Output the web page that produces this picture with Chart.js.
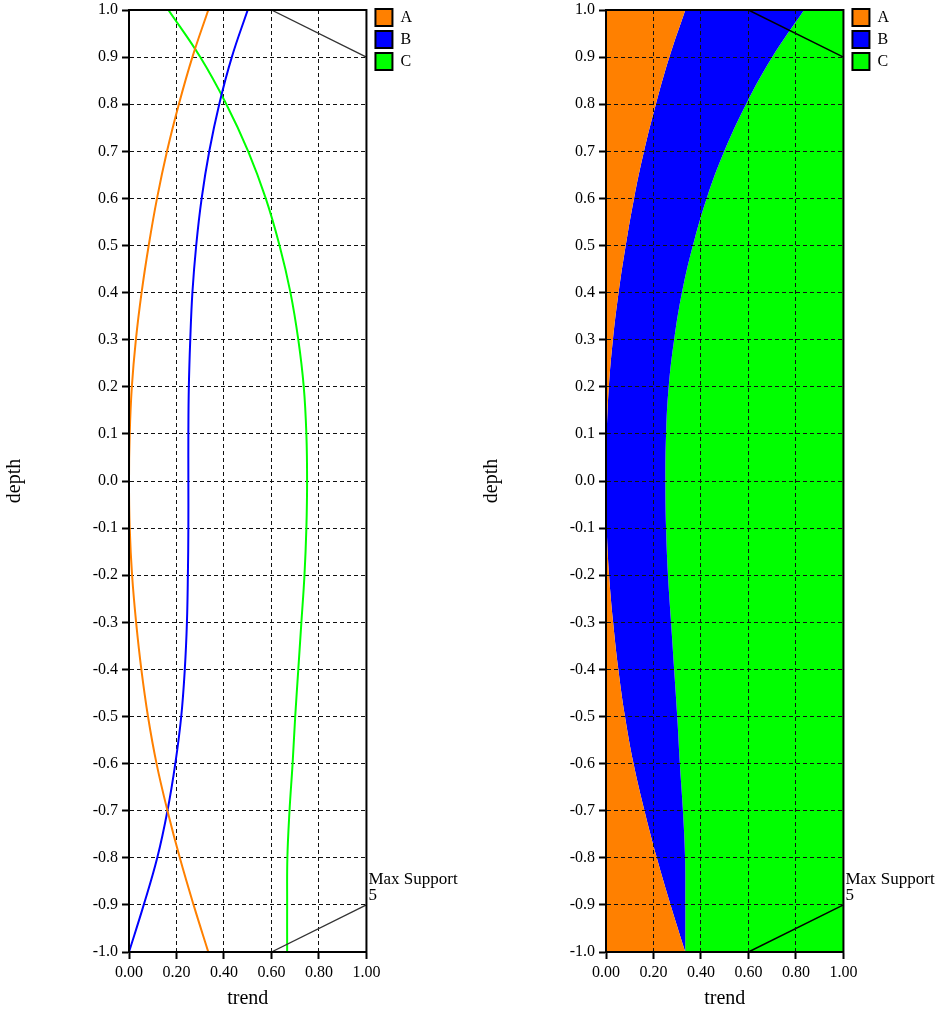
<!DOCTYPE html>
<html>
<head>
<meta charset="utf-8">
<script src="https://cdn.jsdelivr.net/npm/chart.js@4.4.1/dist/chart.umd.min.js"></script>
<style>
    html, body { margin: 0; padding: 0; background: #fff; }
    .panel { position: absolute; top: 0; height: 1014px; }
    #leftPanel { left: 0; width: 470px; }
    #rightPanel { left: 477px; width: 464px; }
</style>
</head>
<body>
<div id="leftPanel" class="panel"><canvas id="trendChart"></canvas></div>
<div id="rightPanel" class="panel"><canvas id="stackChart"></canvas></div>
<script>
// DATA (top of plot to bottom)
const depthLevels = [1.0, 0.9, 0.8, 0.7, 0.6, 0.5, 0.4, 0.3, 0.2, 0.1, 0.0,
    -0.1, -0.2, -0.3, -0.4, -0.5, -0.6, -0.7, -0.8, -0.9, -1.0];
const trendA = [0.334, 0.267, 0.210, 0.160, 0.118, 0.083, 0.053, 0.029, 0.012, 0.003, 0.000,
    0.003, 0.013, 0.030, 0.052, 0.080, 0.116, 0.162, 0.214, 0.272, 0.334];
const trendB = [0.500, 0.433, 0.380, 0.338, 0.306, 0.283, 0.267, 0.258, 0.252, 0.250, 0.250,
    0.250, 0.248, 0.244, 0.235, 0.220, 0.195, 0.162, 0.119, 0.062, 0.000];
const trendC = [0.166, 0.300, 0.410, 0.502, 0.576, 0.634, 0.680, 0.713, 0.736, 0.747, 0.750,
    0.747, 0.739, 0.726, 0.713, 0.700, 0.689, 0.676, 0.667, 0.666, 0.666];

const seriesNames = ["A", "B", "C"];
const seriesColors = ["#FF8000", "#0000FF", "#00FF00"];

// the two black "Max Support" guide lines
const supportTrend = [0.6, 1.0];
const supportTopDepth = [1.0, 0.9];
const supportBottomDepth = [-1.0, -0.9];
const supportText = ["Max Support", "5"];

const serif = '"Liberation Serif", "Times New Roman", serif';
Chart.defaults.font.family = serif;
Chart.defaults.color = "#000";

function toPoints(xs, ys) {
    return xs.map((x, i) => ({ x: x, y: ys[i] }));
}

/* -------------------------
   SHARED PIECES
--------------------------*/

function axisGrid(z) {
    return {
        color: "#111",
        lineWidth: 1,
        tickLength: 7,
        tickColor: "#000",
        tickWidth: 2,
        tickBorderDash: [],
        z: z
    };
}

function buildScales(gridOnTop) {
    const z = gridOnTop ? 1 : -1;
    return {
        x: {
            type: "linear",
            min: 0,
            max: 1,
            ticks: {
                stepSize: 0.2,
                padding: 4,
                font: { size: 16 },
                callback: v => v.toFixed(2)
            },
            grid: axisGrid(z),
            border: { display: true, color: "#000", width: 2, dash: [4, 3], z: z },
            title: {
                display: true,
                text: "trend",
                font: { size: 20 },
                padding: { top: 0, bottom: 3 }
            },
            afterFit: s => {
                s.height = 62;
                s.paddingLeft = 0;
                s.paddingRight = 0;
            }
        },
        y: {
            type: "linear",
            min: -1,
            max: 1,
            ticks: {
                stepSize: 0.1,
                padding: 4,
                font: { size: 16 },
                callback: v => (Math.abs(v) < 1e-9 ? 0 : v).toFixed(1)
            },
            grid: axisGrid(z),
            border: { display: true, color: "#000", width: 2, dash: [4, 3], z: z },
            title: {
                display: true,
                text: "depth",
                font: { size: 20 },
                padding: { top: 3, bottom: 0 }
            },
            afterFit: s => {
                s.width = 129;
                s.paddingTop = 10;
                s.paddingBottom = 0;
            }
        }
    };
}

function buildLegend() {
    return {
        position: "right",
        align: "start",
        onClick: () => {},
        labels: {
            boxWidth: 17,
            boxHeight: 17,
            padding: 5,
            color: "#000",
            font: { size: 16 },
            generateLabels: () => seriesNames.map((name, i) => ({
                text: name,
                fillStyle: seriesColors[i],
                strokeStyle: "#000",
                lineWidth: 2,
                hidden: false,
                datasetIndex: i
            }))
        }
    };
}

function supportLines(color, width) {
    return [
        {
            label: "supportTop",
            data: toPoints(supportTrend, supportTopDepth),
            borderColor: color,
            borderWidth: width,
            pointRadius: 0,
            fill: false,
            order: 0
        },
        {
            label: "supportBottom",
            data: toPoints(supportTrend, supportBottomDepth),
            borderColor: color,
            borderWidth: width,
            pointRadius: 0,
            fill: false,
            order: 0
        }
    ];
}

// frame round the plot + the "Max Support" note
const framePlugin = {
    id: "frame",
    afterLayout(chart) {
        // nudge the legend a little away from the plot
        chart.legend.left += 4;
        chart.legend.right += 4;
    },
    afterDraw(chart) {
        const { ctx, chartArea: a, scales } = chart;
        ctx.save();
        ctx.strokeStyle = "#000";
        ctx.lineWidth = 2;
        ctx.strokeRect(a.left, a.top, a.right - a.left, a.bottom - a.top);

        const yEnd = scales.y.getPixelForValue(supportBottomDepth[1]);
        ctx.fillStyle = "#000";
        ctx.font = "17px " + serif;
        ctx.textAlign = "left";
        ctx.textBaseline = "alphabetic";
        ctx.fillText(supportText[0], a.right + 2, yEnd - 21);
        ctx.fillText(supportText[1], a.right + 2, yEnd - 5);
        ctx.restore();
    }
};

/* -------------------------
   LEFT: TREND LINES
--------------------------*/

const lineSets = [trendA, trendB, trendC].map((vals, i) => ({
    label: seriesNames[i],
    data: toPoints(vals, depthLevels),
    borderColor: seriesColors[i],
    backgroundColor: seriesColors[i],
    borderWidth: 2,
    pointRadius: 0,
    fill: false,
    tension: 0.4,
    order: 1
}));

new Chart(document.getElementById("trendChart"), {
    type: "line",
    data: { datasets: lineSets.concat(supportLines("#333", 1.3)) },
    options: {
        indexAxis: "y",
        responsive: true,
        maintainAspectRatio: false,
        animation: false,
        events: [],
        layout: { padding: { top: 4, right: 52, bottom: 0, left: 0 } },
        scales: buildScales(false),
        plugins: {
            legend: buildLegend(),
            tooltip: { enabled: false }
        }
    },
    plugins: [framePlugin]
});

/* -------------------------
   RIGHT: STACKED AREAS
--------------------------*/

const stackA = trendA.slice();
const stackAB = trendA.map((a, i) => a + trendB[i]);
const stackABC = stackAB.map((v, i) => v + trendC[i]);

const areaSets = [stackA, stackAB, stackABC].map((vals, i) => ({
    label: seriesNames[i],
    data: toPoints(vals, depthLevels),
    borderColor: seriesColors[i],
    backgroundColor: seriesColors[i],
    borderWidth: 0,
    pointRadius: 0,
    fill: i === 0 ? { value: 0 } : "-1",
    tension: 0.4,
    order: 1
}));

new Chart(document.getElementById("stackChart"), {
    type: "line",
    data: { datasets: areaSets.concat(supportLines("#000", 1.5)) },
    options: {
        indexAxis: "y",
        responsive: true,
        maintainAspectRatio: false,
        animation: false,
        events: [],
        layout: { padding: { top: 4, right: 46, bottom: 0, left: 0 } },
        scales: buildScales(true),
        plugins: {
            legend: buildLegend(),
            tooltip: { enabled: false }
        }
    },
    plugins: [framePlugin]
});
</script>
</body>
</html>
